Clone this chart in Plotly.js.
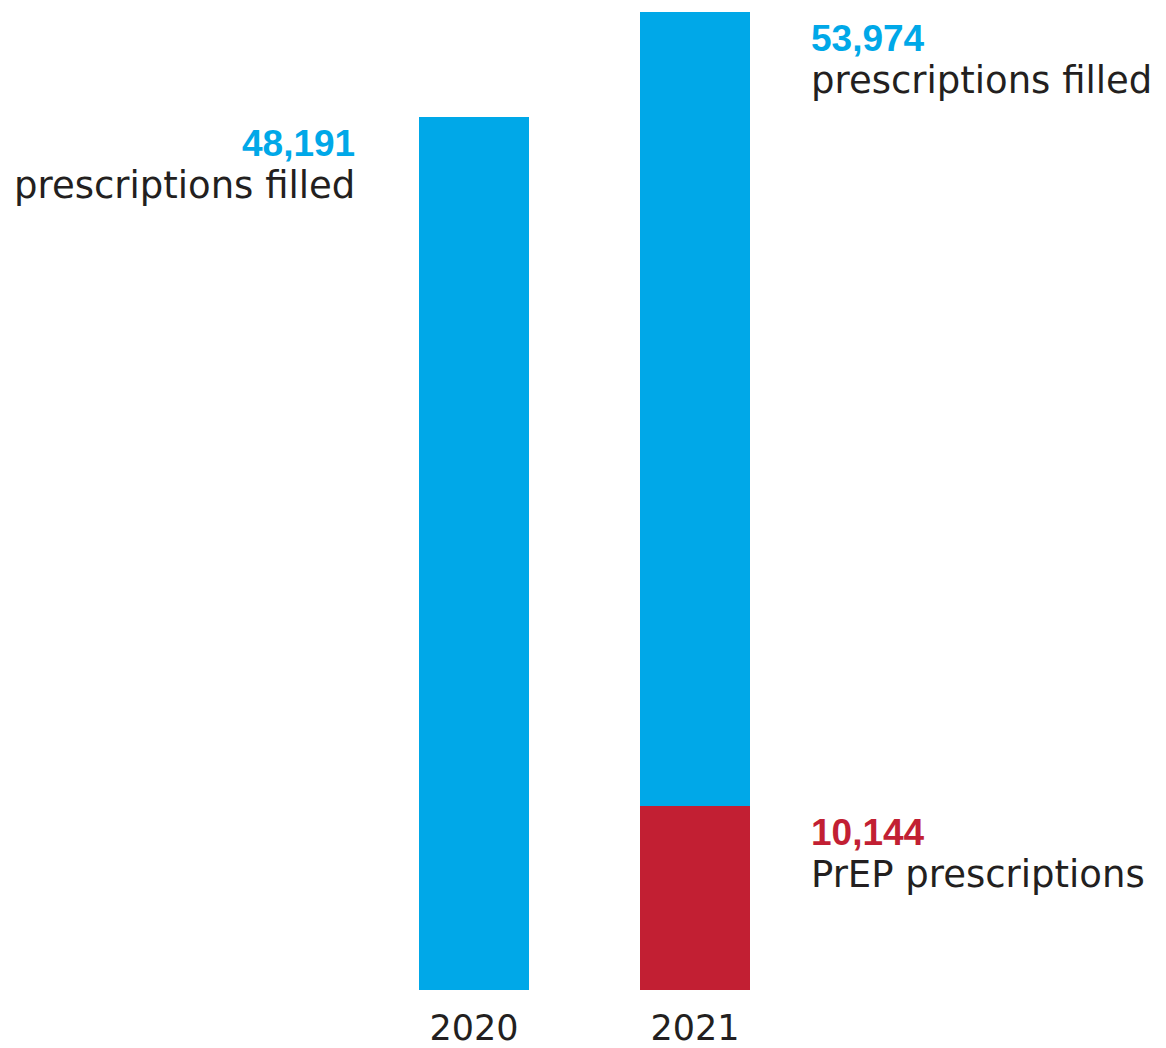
<!DOCTYPE html>
<html>
<head>
<meta charset="utf-8">
<script src="https://cdn.plot.ly/plotly-3.0.1.min.js"></script>
<style>html,body{margin:0;padding:0;background:#fff;}#chart{width:1166px;height:1048px;}</style>
</head>
<body>
<div id="chart"></div>
<script>
const years = ['2020', '2021'];
const totalPrescriptions = [48191, 53974];
const prepPrescriptions = [0, 10144];
const otherPrescriptions = totalPrescriptions.map((t, i) => t - prepPrescriptions[i]);
const descTotal = 'prescriptions filled';
const descPrep = 'PrEP prescriptions';

const BLUE = '#00A8E8';
const RED = '#C21F33';
const DARK = '#231F20';
const FONT = 'DejaVu Sans, sans-serif';
const NUMFONT = 'Liberation Sans, Arial, sans-serif';

const xs = years.map((_, i) => i);
const fmt = v => v.toLocaleString('en-US');

const traces = [
  {type: 'bar', x: xs, y: prepPrescriptions, marker: {color: RED}, width: 0.498, hoverinfo: 'skip'},
  {type: 'bar', x: xs, y: otherPrescriptions, marker: {color: BLUE}, width: 0.498, hoverinfo: 'skip'}
];

const numFont = {family: NUMFONT, size: 37, color: BLUE, weight: 'bold'};
const descFont = {family: FONT, size: 37, color: DARK};

const annotations = [
  {x: 0, y: totalPrescriptions[0], xref: 'x', yref: 'y', text: '<b>' + fmt(totalPrescriptions[0]) + '</b>',
   xanchor: 'right', yanchor: 'top', xshift: -117, yshift: -4, showarrow: false, font: numFont},
  {x: 0, y: totalPrescriptions[0], xref: 'x', yref: 'y', text: descTotal,
   xanchor: 'right', yanchor: 'top', xshift: -117, yshift: -45, showarrow: false, font: descFont},
  {x: 1, y: totalPrescriptions[1], xref: 'x', yref: 'y', text: '<b>' + fmt(totalPrescriptions[1]) + '</b>',
   xanchor: 'left', yanchor: 'top', xshift: 114, yshift: -4, showarrow: false, font: numFont},
  {x: 1, y: totalPrescriptions[1], xref: 'x', yref: 'y', text: descTotal,
   xanchor: 'left', yanchor: 'top', xshift: 114, yshift: -45, showarrow: false, font: descFont},
  {x: 1, y: prepPrescriptions[1], xref: 'x', yref: 'y', text: '<b>' + fmt(prepPrescriptions[1]) + '</b>',
   xanchor: 'left', yanchor: 'top', xshift: 114, yshift: -4, showarrow: false, font: Object.assign({}, numFont, {color: RED})},
  {x: 1, y: prepPrescriptions[1], xref: 'x', yref: 'y', text: descPrep,
   xanchor: 'left', yanchor: 'top', xshift: 114, yshift: -45, showarrow: false, font: descFont}
];

const layout = {
  width: 1166, height: 1048,
  margin: {l: 0, r: 0, t: 0, b: 58},
  paper_bgcolor: '#fff', plot_bgcolor: '#fff',
  barmode: 'stack',
  showlegend: false,
  xaxis: {range: [-474/221, (1166-474)/221], tickvals: xs, ticktext: years,
          showgrid: false, zeroline: false, showline: false, ticks: '',
          ticklabelstandoff: 14,
          tickfont: {family: FONT, size: 35, color: DARK}, fixedrange: true},
  yaxis: {range: [0, 53974*990/978], visible: false, showgrid: false, zeroline: false, fixedrange: true},
  annotations: annotations
};

Plotly.newPlot('chart', traces, layout, {displayModeBar: false, staticPlot: true});
</script>
</body>
</html>
